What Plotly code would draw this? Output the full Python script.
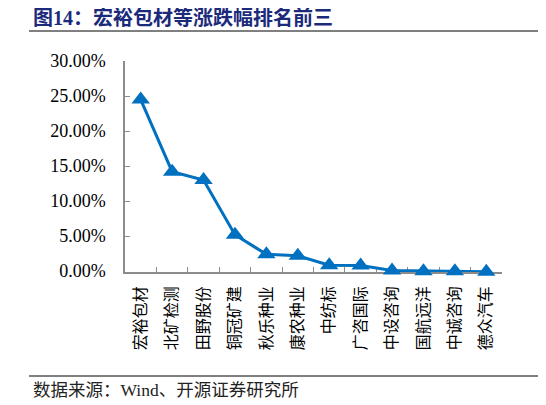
import plotly.graph_objects as go

# 涨跌幅排名（%）
companies = ["宏裕包材", "北矿检测", "田野股份", "铜冠矿建", "秋乐种业", "康农种业",
             "中纺标", "广咨国际", "中设咨询", "国航远洋", "中诚咨询", "德众汽车"]
changes = [24.5, 14.2, 13.0, 5.2, 2.4, 2.2, 0.85, 0.8, 0.1, 0.0, 0.0, -0.1]
y_ticks = [0, 5, 10, 15, 20, 25, 30]
y_tick_text = [f"{v:.2f}%" for v in y_ticks]

TITLE = "图14：宏裕包材等涨跌幅排名前三"
SOURCE = "数据来源：Wind、开源证券研究所"

# the page body has an 8px margin, so positions below are page px minus 8
OFF = 8
W, H = 546, 405
L, T = 125 - OFF, 61 - OFF
R = W - (502 - OFF)
B = H - (272 - OFF)
pw, ph = W - L - R, H - T - B


def px_x(x):
    return (x - OFF - L) / pw


def px_y(y):
    return (H - B - (y - OFF)) / ph


SERIF = "Liberation Serif, Noto Sans CJK SC, serif"
BLUE = "#0070C0"
AXIS = "#8c8c8c"

fig = go.Figure()
fig.add_scatter(
    x=companies,
    y=changes,
    mode="lines+markers",
    line={"color": BLUE, "width": 3},
    marker={"symbol": "triangle-up", "size": 16, "color": BLUE},
    cliponaxis=False,
    showlegend=False,
)

fig.update_layout(
    width=W,
    height=H,
    plot_bgcolor="white",
    paper_bgcolor="white",
    margin={"l": L, "r": R, "t": T, "b": B, "pad": 0},
    font={"family": SERIF, "size": 16, "color": "#000000"},
)
fig.update_xaxes(
    type="category",
    showgrid=False,
    showline=True,
    linecolor=AXIS,
    linewidth=1.5,
    ticks="inside",
    tickson="boundaries",
    ticklen=5,
    tickcolor=AXIS,
    tickangle=-90,
    tickfont={"family": SERIF, "size": 16},
    ticklabelstandoff=6,
    layer="below traces",
    range=[-0.5, len(companies) - 0.5],
)
fig.update_yaxes(
    # a hair below zero so the slightly negative last point is still drawn
    range=[-0.12, 30],
    tickvals=y_ticks,
    ticktext=y_tick_text,
    showgrid=False,
    zeroline=False,
    showline=True,
    linecolor=AXIS,
    linewidth=1.5,
    ticks="inside",
    ticklen=5,
    tickcolor=AXIS,
    tickfont={"family": SERIF, "size": 18},
    ticklabelstandoff=14,
    layer="below traces",
)

# 标题与分隔线
fig.add_annotation(
    text=f"<b>{TITLE}</b>", xref="paper", yref="paper",
    x=px_x(31), y=px_y(17), xanchor="left", yanchor="middle", showarrow=False,
    font={"family": SERIF, "size": 20, "color": "#1c2a7c"},
)
fig.add_shape(type="line", xref="paper", yref="paper",
              x0=px_x(29), x1=px_x(560), y0=px_y(31), y1=px_y(31),
              line={"color": "#000000", "width": 1})
fig.add_shape(type="line", xref="paper", yref="paper",
              x0=px_x(29), x1=px_x(560), y0=px_y(376), y1=px_y(376),
              line={"color": "#000000", "width": 1})
fig.add_annotation(
    text=SOURCE, xref="paper", yref="paper",
    x=px_x(31), y=px_y(390), xanchor="left", yanchor="middle", showarrow=False,
    font={"family": SERIF, "size": 17.5, "color": "#222222"},
)

fig.write_html("out.html")
